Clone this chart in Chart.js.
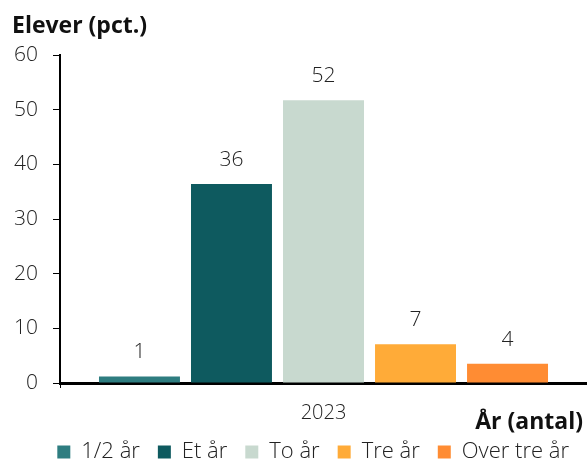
<!DOCTYPE html>
<html>
<head>
<meta charset="utf-8">
<script src="https://cdn.jsdelivr.net/npm/chart.js@4"></script>
<style>
  html, body { margin: 0; padding: 0; background: #fff; }
  #wrap { width: 587px; height: 462px; }
</style>
</head>
<body>
<div id="wrap"><canvas id="c" width="587" height="462"></canvas></div>
<script>
const categories = ["2023"]
const seriesNames = ["1/2 år", "Et år", "To år", "Tre år", "Over tre år"]
const seriesValues = [1.2, 36.4, 51.7, 7.1, 3.5]
const seriesColors = ["#2e7d80", "#0e5a5f", "#c8d9cf", "#ffab38", "#ff8c33"]
const yTicks = [0, 10, 20, 30, 40, 50, 60]

const font = "'Open Sans'"

const valueLabels = {
  id: "valueLabels",
  afterDatasetsDraw(chart) {
    const ctx = chart.ctx
    ctx.save()
    ctx.font = "300 21px " + font
    ctx.fillStyle = "#222"
    ctx.textAlign = "center"
    ctx.textBaseline = "middle"
    chart.data.datasets.forEach((ds, i) => {
      chart.getDatasetMeta(i).data.forEach((bar, j) => {
        ctx.fillText(Math.round(ds.data[j]), bar.x, bar.y - 24)
      })
    })
    ctx.restore()
  }
}

const axisTitles = {
  id: "axisTitles",
  afterDraw(chart) {
    const ctx = chart.ctx
    ctx.save()
    ctx.font = "bold 23px " + font
    ctx.fillStyle = "#111"
    ctx.textBaseline = "alphabetic"
    ctx.textAlign = "left"
    ctx.fillText("Elever (pct.)", 12, 33)
    ctx.textAlign = "right"
    ctx.fillText("År (antal)", 583, 429)
    ctx.restore()
  }
}

new Chart(document.getElementById("c"), {
  type: "bar",
  data: {
    labels: categories,
    datasets: seriesNames.map((name, i) => ({
      label: name,
      data: [seriesValues[i]],
      backgroundColor: seriesColors[i],
      categoryPercentage: 0.873,
      barPercentage: 0.88,
    }))
  },
  options: {
    responsive: false,
    animation: false,
    layout: { padding: { top: 55, right: 0, left: 0, bottom: -11 } },
    plugins: {
      legend: {
        position: "bottom",
        align: "end",
        labels: {
          font: { family: font, size: 22, weight: 300 },
          color: "#222",
          boxWidth: 13,
          boxHeight: 13,
          padding: 18,
        }
      },
      tooltip: { enabled: false },
    },
    scales: {
      x: {
        afterFit(scale) { scale.height = 40 },
        grid: { drawOnChartArea: false, drawTicks: true, tickLength: 5, color: "#000", offset: true },
        border: { color: "#000", width: 3 },
        ticks: { font: { family: font, size: 20, weight: 300 }, color: "#222", padding: 13 },
      },
      y: {
        min: 0,
        max: 60,
        afterBuildTicks(scale) {
          scale.ticks = yTicks.map(v => ({ value: v }))
        },
        afterFit(scale) { scale.width = 60 },
        grid: { drawOnChartArea: false, drawTicks: true, tickLength: 7, color: "#000" },
        border: { color: "#000", width: 2 },
        ticks: { font: { family: font, size: 21, weight: 300 }, color: "#222", padding: 15 },
      }
    }
  },
  plugins: [valueLabels, axisTitles]
})
</script>
</body>
</html>
